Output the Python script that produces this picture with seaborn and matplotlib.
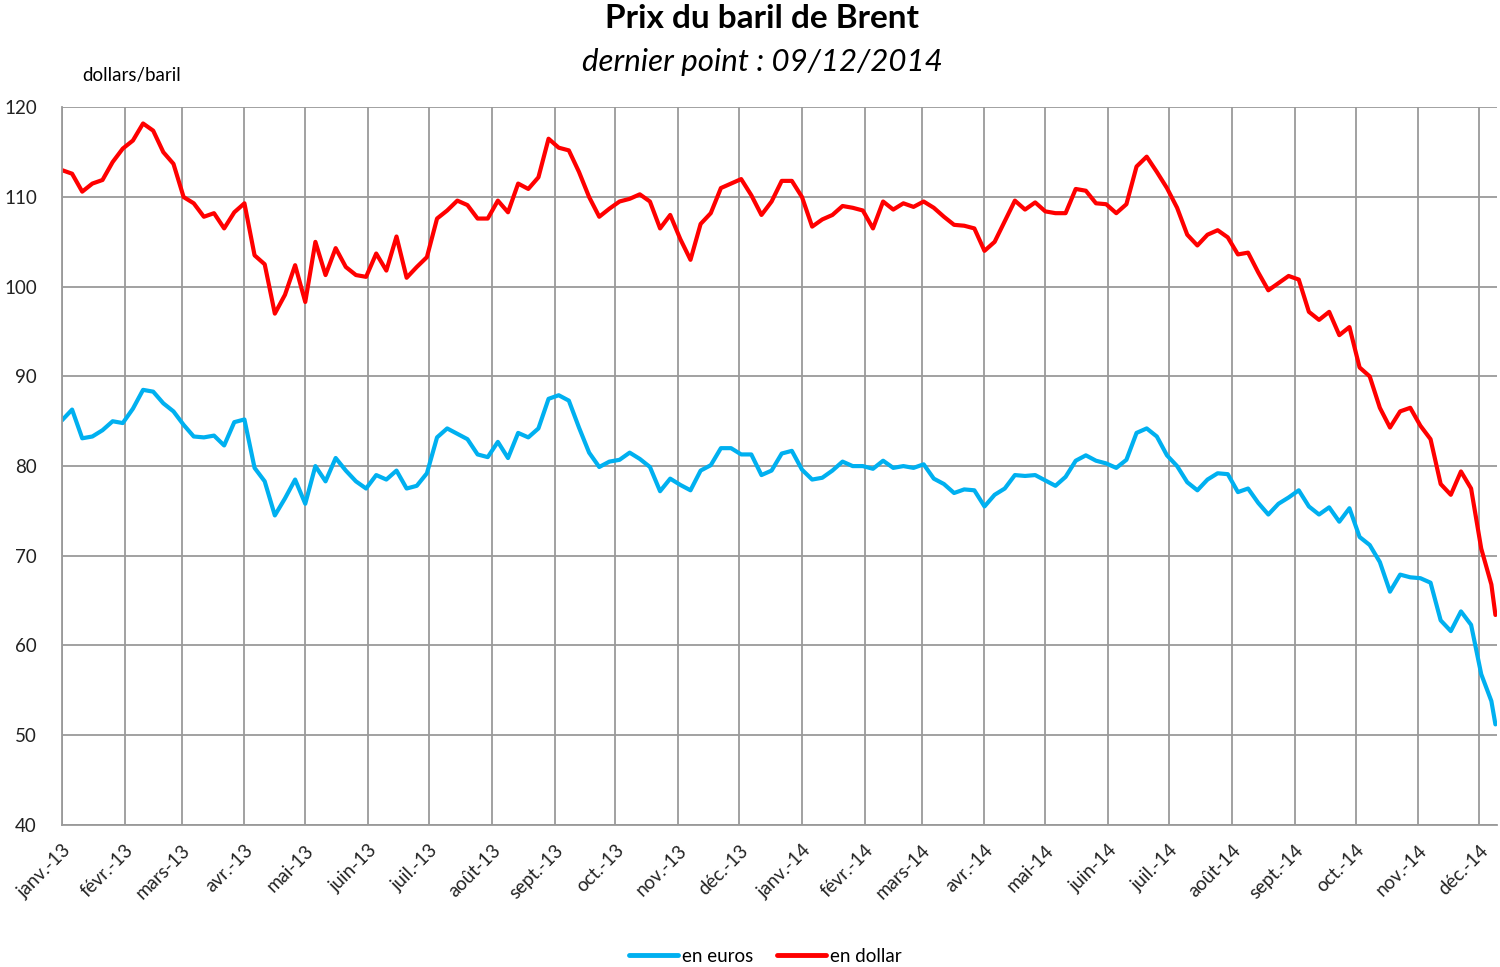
# -*- coding: utf-8 -*-
import numpy as np
import pandas as pd
import seaborn as sns
import matplotlib
matplotlib.use('Agg')
from matplotlib import pyplot as plt

# prix, un point tous les 5 jours depuis le 1er janvier 2013,
# plus le dernier point du 09/12/2014
en_dollar = [113.0, 112.6, 110.6, 111.5, 111.9, 113.9, 115.4, 116.3, 118.2, 117.4,
             115.0, 113.7, 110.0, 109.3, 107.8, 108.2, 106.5, 108.3, 109.3, 103.5,
             102.5, 97.0, 99.1, 102.4, 98.3,
             105.0, 101.3, 104.3, 102.2, 101.3, 101.1, 103.7, 101.8, 105.6, 101.0,
             102.2, 103.3, 107.6, 108.5, 109.6, 109.1, 107.6, 107.6, 109.6, 108.3,
             111.5, 110.9, 112.2,
             116.5, 115.5, 115.2, 112.8, 110.0, 107.8, 108.7, 109.5, 109.8, 110.3,
             109.5, 106.5, 108.0, 105.3, 103.0, 107.0, 108.2, 111.0, 111.5, 112.0,
             110.2, 108.0, 109.5, 111.8,
             111.8, 110.0, 106.7, 107.5, 108.0, 109.0, 108.8, 108.5, 106.5, 109.5,
             108.6, 109.3, 108.9, 109.5, 108.8, 107.8, 106.9, 106.8, 106.5, 104.0,
             105.0, 107.3, 109.6, 108.6,
             109.4, 108.4, 108.2, 108.2, 110.9, 110.7, 109.3, 109.2, 108.2, 109.2,
             113.4, 114.5, 112.8, 111.0, 108.8, 105.8, 104.6, 105.8, 106.3, 105.5,
             103.6, 103.8, 101.6,
             99.6, 100.4, 101.2, 100.8, 97.2, 96.3, 97.2, 94.6, 95.5, 91.0,
             90.0, 86.5, 84.3, 86.1, 86.5, 84.5, 83.0, 78.0, 76.8, 79.4,
             77.5, 70.8, 66.8,
             63.4]

en_euros = [85.1, 86.3, 83.1, 83.3, 84.0, 85.0, 84.8, 86.4, 88.5, 88.3,
            87.0, 86.1, 84.6, 83.3, 83.2, 83.4, 82.3, 84.9, 85.2, 79.8,
            78.3, 74.5, 76.4, 78.5, 75.8,
            80.0, 78.3, 80.9, 79.5, 78.3, 77.5, 79.0, 78.5, 79.5, 77.5,
            77.8, 79.2, 83.2, 84.2, 83.6, 83.0, 81.3, 81.0, 82.7, 80.9,
            83.7, 83.2, 84.2,
            87.5, 87.9, 87.3, 84.3, 81.5, 79.9, 80.5, 80.7, 81.5, 80.8,
            79.9, 77.2, 78.6, 77.9, 77.3, 79.5, 80.1, 82.0, 82.0, 81.3,
            81.3, 79.0, 79.5, 81.4,
            81.7, 79.6, 78.5, 78.7, 79.5, 80.5, 80.0, 80.0, 79.7, 80.6,
            79.8, 80.0, 79.8, 80.2, 78.6, 78.0, 77.0, 77.4, 77.3, 75.5,
            76.8, 77.5, 79.0, 78.9,
            79.0, 78.4, 77.8, 78.8, 80.6, 81.2, 80.6, 80.3, 79.8, 80.7,
            83.7, 84.2, 83.3, 81.2, 80.0, 78.2, 77.3, 78.5, 79.2, 79.1,
            77.1, 77.5, 75.9,
            74.6, 75.8, 76.5, 77.3, 75.5, 74.6, 75.4, 73.8, 75.3, 72.1,
            71.2, 69.3, 66.0, 67.9, 67.6, 67.5, 67.0, 62.8, 61.6, 63.8,
            62.3, 56.8, 53.8,
            51.2]

dates = list(pd.date_range('2013-01-01', periods=142, freq='5D')) + [pd.Timestamp('2014-12-09')]

mois = ['janv.-13', 'févr.-13', 'mars-13', 'avr.-13', 'mai-13', 'juin-13',
        'juil.-13', 'août-13', 'sept.-13', 'oct.-13', 'nov.-13', 'déc.-13',
        'janv.-14', 'févr.-14', 'mars-14', 'avr.-14', 'mai-14', 'juin-14',
        'juil.-14', 'août-14', 'sept.-14', 'oct.-14', 'nov.-14', 'déc.-14']

df = pd.DataFrame({'date': dates * 2,
                   'prix': en_euros + en_dollar,
                   'serie': ['en euros'] * len(dates) + ['en dollar'] * len(dates)})

sns.set_style('white')
plt.rcParams['font.family'] = ['Lato', 'DejaVu Sans']
plt.rcParams['text.color'] = 'black'
plt.rcParams['xtick.color'] = '#999999'
plt.rcParams['xtick.labelcolor'] = '#222222'
plt.rcParams['ytick.labelcolor'] = '#222222'

fig = plt.figure(figsize=(15, 9.67), dpi=100)
ax = fig.add_axes([0.0413, 0.147, 0.957, 0.742])

sns.lineplot(data=df, x='date', y='prix', hue='serie',
             palette={'en euros': '#00B0F0', 'en dollar': '#FF0000'},
             linewidth=3.0, ax=ax)

ax.set_ylim(40, 120)
ax.set_yticks(np.arange(40, 121, 10))
ax.set_xlim(pd.Timestamp('2013-01-01'), pd.Timestamp('2014-12-10'))
month_ticks = pd.date_range('2013-01-01', periods=24, freq='MS')
ax.set_xticks(month_ticks)
ax.set_xticklabels(mois, rotation=45, ha='right', rotation_mode='anchor', fontsize=13.5)
ax.tick_params(axis='x', direction='out', length=6, pad=6)
ax.tick_params(axis='y', length=0, labelsize=13.5, pad=18)
ax.grid(True, color='#9a9a9a', linewidth=1.3)
ax.set_axisbelow(True)
for s in ['top', 'right']:
    ax.spines[s].set_visible(False)
for s in ['left', 'bottom']:
    ax.spines[s].set_color('#9a9a9a')
    ax.spines[s].set_linewidth(1.3)
ax.set_xlabel('')
ax.set_ylabel('')

fig.text(0.508, 0.981, 'Prix du baril de Brent', ha='center', va='center',
         fontsize=24, fontweight='bold')
fig.text(0.508, 0.936, 'dernier point : 09/12/2014', ha='center', va='center',
         fontsize=22.5, style='italic')
fig.text(0.055, 0.922, 'dollars/baril', ha='left', va='center', fontsize=13.5)

leg = ax.legend(loc='upper center', bbox_to_anchor=(0.49, -0.148), ncol=2,
                frameon=False, fontsize=13.5, handlelength=2.6, handletextpad=0.2,
                columnspacing=1.3)
for line in leg.get_lines():
    line.set_linewidth(3.5)

fig.savefig('out.png', dpi=100)
